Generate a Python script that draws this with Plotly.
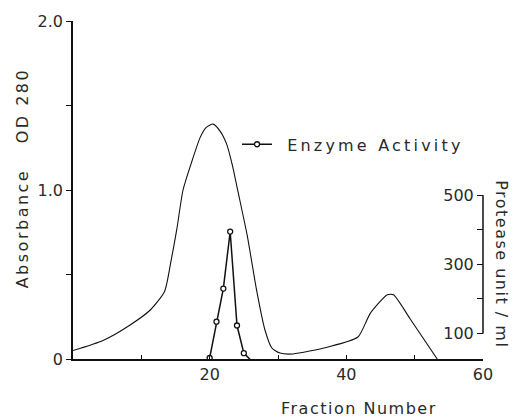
import plotly.graph_objects as go

# Absorbance (OD280) curve
abs_fraction = [0, 4.4, 8.3, 11.3, 13.4, 14.3, 15.2, 16.1, 17.4, 18.6, 19.5, 20.5, 21.5,
                22.5, 23.3, 24.2, 25.5, 26.9, 28.1, 29.1, 30.3, 32.2, 37.2, 41.7, 43.5,
                46.0, 46.9, 49.3, 53.3]
abs_od = [0.05, 0.11, 0.20, 0.29, 0.40, 0.57, 0.77, 1.00, 1.17, 1.31, 1.37, 1.39, 1.35,
          1.27, 1.15, 0.98, 0.73, 0.40, 0.17, 0.065, 0.035, 0.03, 0.07, 0.13, 0.27,
          0.38, 0.38, 0.24, 0.0]

# Enzyme activity (protease unit / ml)
enz_fraction = [20, 21, 22, 23, 24, 25, 26]
enz_activity = [29, 134, 230, 395, 123, 43, 23]

x_tickvals = [10, 20, 30, 40, 50, 60]
x_ticktext = ["", "20", "", "40", "", "60"]
y_tickvals = [0, 0.5, 1.0, 1.5, 2.0]
y_ticktext = ["0", "", "1.0", "", "2.0"]
y2_tickvals = [100, 200, 300, 400, 500]
y2_ticktext = ["100", "", "300", "", "500"]

FONT = "DejaVu Sans"
TXT = "#2a2a2a"


def spaced(s, px):
    return '<span style="letter-spacing:%spx">%s</span>' % (px, s)


fig = go.Figure()
fig.add_trace(go.Scatter(
    x=abs_fraction, y=abs_od, mode="lines",
    line=dict(color="#111", width=1.1, shape="spline", smoothing=0.6),
    showlegend=False, yaxis="y"))
fig.add_trace(go.Scatter(
    x=enz_fraction, y=enz_activity, mode="lines+markers",
    name="  " + spaced("Enzyme Activity", 3.2),
    line=dict(color="#111", width=1.5),
    marker=dict(symbol="circle", size=5, color="white", line=dict(color="#111", width=1.3)),
    cliponaxis=False, showlegend=True, yaxis="y2"))

fig.update_layout(
    width=523, height=419,
    margin=dict(l=73, r=40, t=14, b=60),
    paper_bgcolor="white", plot_bgcolor="white",
    font=dict(family=FONT, size=16, color=TXT),
    xaxis=dict(range=[0, 60], showline=True, linecolor="#111", linewidth=1.5,
               tickvals=x_tickvals, ticktext=x_ticktext, ticks="inside", ticklen=4,
               tickcolor="#111", showgrid=False, zeroline=False,
               tickfont=dict(size=16, color=TXT)),
    yaxis=dict(range=[0, 2.0], showline=True, linecolor="#111", linewidth=1.5,
               tickvals=y_tickvals, ticktext=y_ticktext, ticks="outside", ticklen=5,
               tickcolor="#111", showgrid=False, zeroline=False,
               tickfont=dict(size=16, color=TXT)),
    yaxis2=dict(range=[26, 1005], overlaying="y", side="left", anchor="free", position=1,
                showline=False, automargin=False,
                tickvals=y2_tickvals, ticktext=y2_ticktext, ticks="outside", ticklen=6,
                tickcolor="#111", showgrid=False,
                zeroline=False, tickfont=dict(size=16, color=TXT)),
    legend=dict(x=0.40, y=0.635, xanchor="left", yanchor="middle",
                bgcolor="rgba(0,0,0,0)", font=dict(size=16, color=TXT), itemwidth=30),
    shapes=[dict(type="line", xref="paper", yref="y2", x0=1, x1=1, y0=100, y1=500,
                 line=dict(color="#111", width=1.5))],
    annotations=[
        dict(text=spaced("Absorbance", 2.5) + "     " + spaced("OD 280", 2.5),
             xref="paper", yref="paper",
             x=-0.124, y=0.535, xanchor="center", yanchor="middle",
             textangle=-90, showarrow=False, font=dict(size=16, color=TXT)),
        dict(text=spaced("Protease unit / ml", 1.5), xref="paper", yref="paper",
             x=1.046, y=0.281, xanchor="center", yanchor="middle",
             textangle=90, showarrow=False, font=dict(size=16, color=TXT)),
        dict(text=spaced("Fraction Number", 1.5), xref="paper", yref="paper",
             x=0.698, y=-0.145, xanchor="center", yanchor="middle",
             showarrow=False, font=dict(size=16, color=TXT)),
    ],
)

fig.write_html("out.html")
